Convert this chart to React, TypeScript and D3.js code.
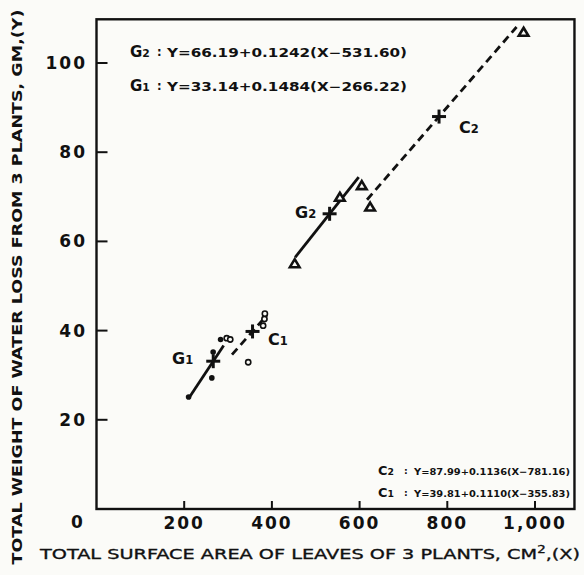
import React from 'react';
import * as d3 from 'd3';

const g1Area = [210, 263, 266, 283];
const g1Loss = [25.1, 29.4, 35.2, 38.0];
const c1Area = [297, 305, 346, 380, 383, 384];
const c1Loss = [38.3, 38.0, 32.9, 41.1, 42.6, 43.8];
const g2Area = [452, 555, 605];
const g2Loss = [55.0, 69.9, 72.5];
const c2Area = [624, 974];
const c2Loss = [67.7, 106.9];

// fitted lines Y = meanY + slope (X - meanX)
const fitNames = ['G1', 'C1', 'G2', 'C2'];
const fitMeanX = [266.22, 355.83, 531.6, 781.16];
const fitMeanY = [33.14, 39.81, 66.19, 87.99];
const fitSlope = [0.1484, 0.111, 0.1242, 0.1136];
const fitFrom = [210, 309, 453, 617];
const fitTo = [290, 389, 598, 958];
const fitDashed = [false, true, false, true];

const xTicks = [200, 400, 600, 800, 1000];
const yTicks = [20, 40, 60, 80, 100];

const eqTexts = [
  'Y=66.19+0.1242(X\u2212531.60)',
  'Y=33.14+0.1484(X\u2212266.22)',
  'Y=87.99+0.1136(X\u2212781.16)',
  'Y=39.81+0.1110(X\u2212355.83)',
];

const font = 'DejaVu Sans, sans-serif';

export default function App() {
  const width = 584, height = 575;
  const x = d3.scaleLinear().domain([0, 1000]).range([96.5, 535]);
  const y = d3.scaleLinear().domain([0, 100]).range([509, 63]);
  const fmt = d3.format(',');

  const left = x(0), right = x(1090), top = y(109.8), bottom = y(0);

  const tri = (cx: number, cy: number) =>
    `M${cx},${cy - 4.5} L${cx + 4.8},${cy + 3.5} L${cx - 4.8},${cy + 3.5} Z`;

  const sub = (main: string, s: string, px: number, py: number, size = 16) => (
    <text x={px} y={py} fontFamily={font} fontWeight="bold" fontSize={size} fill="#111">
      {main}
      <tspan fontSize={size * 0.72}>{s}</tspan>
    </text>
  );

  const eq = (i: number, name: string, s: string, px: number, py: number, gap: number, len: number, size: number) => (
    <g key={'eq' + i}>
      {sub(name, s, px, py, size + 3.5)}
      <text x={px + gap - 10} y={py - 1} fontFamily={font} fontWeight="bold" fontSize={size} fill="#111">:</text>
      <text x={px + gap} y={py} fontFamily={font} fontWeight="bold" fontSize={size} fill="#111"
        textLength={len} lengthAdjust="spacingAndGlyphs">{eqTexts[i]}</text>
    </g>
  );

  return (
    <svg width={width} height={height} style={{ display: 'block', position: 'absolute', left: 0, top: 0, background: '#fbfbf8' }}>
      <rect x={0} y={0} width={width} height={height} fill="#fbfbf8" />
      {/* frame */}
      <rect x={left} y={top} width={right - left} height={bottom - top} fill="none" stroke="#111" strokeWidth={2.4} />

      {xTicks.map(t => (
        <g key={'xt' + t}>
          <line x1={x(t)} x2={x(t)} y1={bottom} y2={bottom - 8} stroke="#111" strokeWidth={2} />
          <text x={x(t)} y={529} textAnchor="middle" fontFamily={font} fontWeight="bold" fontSize={17}
            letterSpacing={2} fill="#111">{fmt(t)}</text>
        </g>
      ))}
      {yTicks.map(t => (
        <g key={'yt' + t}>
          <line x1={left} x2={left + 11} y1={y(t)} y2={y(t)} stroke="#111" strokeWidth={2} />
          <text x={87} y={y(t) + 6} textAnchor="end" fontFamily={font} fontWeight="bold" fontSize={17}
            letterSpacing={2} fill="#111">{t}</text>
        </g>
      ))}
      <text x={77} y={528} textAnchor="middle" fontFamily={font} fontWeight="bold" fontSize={17} fill="#111">0</text>

      {/* axis titles */}
      <text x={310} y={559} textAnchor="middle" fontFamily={font} fontSize={14.5} fill="#111"
        stroke="#111" strokeWidth={0.35} textLength={540} lengthAdjust="spacingAndGlyphs">
        TOTAL SURFACE AREA OF LEAVES OF 3 PLANTS, CM<tspan dy={-6} fontSize={10}>2</tspan><tspan dy={6}>,(X)</tspan>
      </text>
      <text transform="translate(22,287) rotate(-90)" textAnchor="middle" fontFamily={font} fontWeight="bold"
        fontSize={14} fill="#111" textLength={555} lengthAdjust="spacingAndGlyphs">
        TOTAL WEIGHT OF WATER LOSS FROM 3 PLANTS, GM,(Y)
      </text>

      {/* fitted lines */}
      {fitNames.map((n, i) => {
        const f = (v: number) => fitMeanY[i] + fitSlope[i] * (v - fitMeanX[i]);
        return (
          <line key={'fit' + n} x1={x(fitFrom[i])} y1={y(f(fitFrom[i]))} x2={x(fitTo[i])} y2={y(f(fitTo[i]))}
            stroke="#111" strokeWidth={2.8} strokeDasharray={fitDashed[i] ? '8,5' : undefined} />
        );
      })}

      {/* points */}
      {g1Area.map((a, i) => (
        <circle key={'g1' + i} cx={x(a)} cy={y(g1Loss[i])} r={2.8} fill="#111" />
      ))}
      {c1Area.map((a, i) => (
        <circle key={'c1' + i} cx={x(a)} cy={y(c1Loss[i])} r={2.6} fill="#fbfbf8" stroke="#111" strokeWidth={1.6} />
      ))}
      {g2Area.map((a, i) => (
        <path key={'g2' + i} d={tri(x(a), y(g2Loss[i]))} fill="#fbfbf8" stroke="#111" strokeWidth={2.6} />
      ))}
      {c2Area.map((a, i) => (
        <path key={'c2' + i} d={tri(x(a), y(c2Loss[i]))} fill="#fbfbf8" stroke="#111" strokeWidth={2.6} />
      ))}

      {/* means */}
      {fitNames.map((n, i) => {
        const cx = x(fitMeanX[i]), cy = y(fitMeanY[i]);
        return (
          <g key={'m' + n} stroke="#111" strokeWidth={3}>
            <line x1={cx - 7} x2={cx + 7} y1={cy} y2={cy} />
            <line x1={cx} x2={cx} y1={cy - 7} y2={cy + 7} />
          </g>
        );
      })}

      {/* line labels */}
      {sub('G', '1', 172, 364, 16)}
      {sub('C', '1', 268, 345, 16)}
      {sub('G', '2', 295, 218, 16)}
      {sub('C', '2', 459, 133, 16)}

      {/* equations */}
      {eq(0, 'G', '2', 130, 57, 37, 240, 11.5)}
      {eq(1, 'G', '1', 130, 91, 37, 240, 11.5)}
      {eq(2, 'C', '2', 378, 475, 36, 156, 9.4)}
      {eq(3, 'C', '1', 378, 497, 36, 156, 9.4)}
    </svg>
  );
}
